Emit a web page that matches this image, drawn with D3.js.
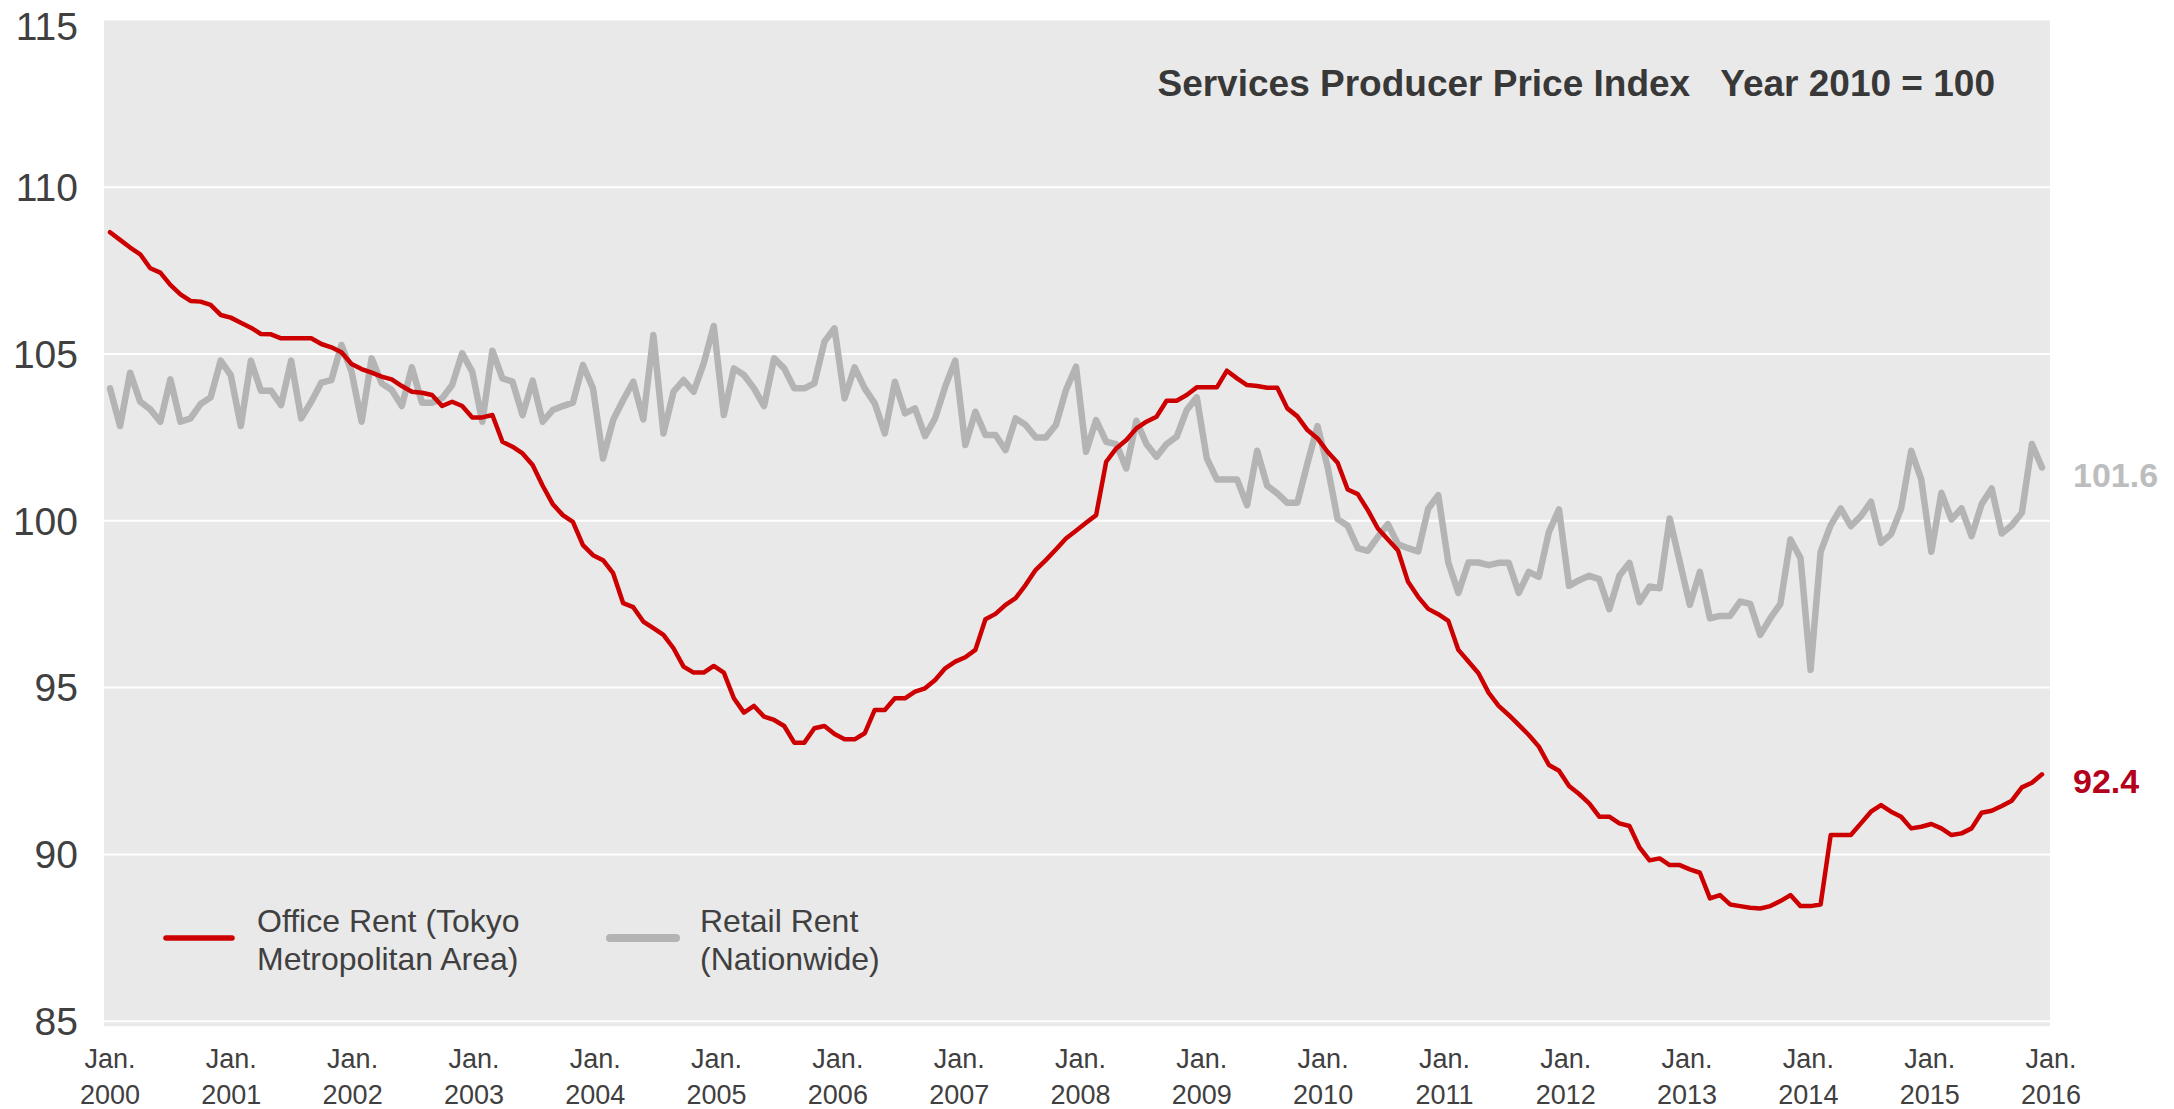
<!DOCTYPE html>
<html>
<head>
<meta charset="utf-8">
<script src="https://cdn.jsdelivr.net/npm/d3@7"></script>
<style>
  body { margin: 0; background: #ffffff; }
  svg text { font-family: "Liberation Sans", Arial, Helvetica, sans-serif; }
</style>
</head>
<body>
<svg id="chart" width="2174" height="1109"></svg>
<script>
// Services Producer Price Index (Year 2010 = 100), monthly, Jan. 2000 – Jan. 2016
const officeRent = [
  108.65,108.42,108.19,107.99,107.57,107.44,107.07,106.79,106.59,106.57,106.47,106.17,
  106.09,105.94,105.79,105.60,105.59,105.47,105.47,105.47,105.47,105.30,105.20,105.05,
  104.70,104.55,104.44,104.32,104.24,104.04,103.87,103.84,103.77,103.44,103.57,103.44,
  103.10,103.10,103.17,102.37,102.22,102.02,101.67,101.05,100.50,100.17,99.97,99.27,
  98.97,98.82,98.43,97.53,97.41,96.98,96.78,96.58,96.18,95.63,95.45,95.45,
  95.65,95.45,94.68,94.25,94.45,94.13,94.03,93.85,93.35,93.35,93.78,93.85,
  93.61,93.45,93.45,93.63,94.33,94.33,94.68,94.68,94.88,94.98,95.23,95.58,
  95.78,95.91,96.13,97.05,97.21,97.48,97.68,98.08,98.53,98.82,99.14,99.47,
  99.70,99.94,100.17,101.77,102.17,102.42,102.77,102.97,103.12,103.60,103.60,103.77,
  104.00,104.00,104.00,104.50,104.27,104.07,104.04,103.99,103.99,103.37,103.13,102.72,
  102.47,102.07,101.74,100.94,100.80,100.32,99.77,99.44,99.11,98.17,97.72,97.36,
  97.20,97.00,96.13,95.78,95.43,94.85,94.45,94.18,93.88,93.58,93.23,92.68,
  92.51,92.05,91.81,91.53,91.13,91.13,90.93,90.85,90.21,89.82,89.88,89.68,
  89.68,89.55,89.45,88.68,88.78,88.50,88.45,88.40,88.38,88.45,88.60,88.78,
  88.45,88.45,88.50,90.58,90.58,90.58,90.93,91.28,91.48,91.28,91.13,90.78,
  90.83,90.91,90.78,90.58,90.63,90.78,91.25,91.31,91.45,91.61,92.01,92.15,
  92.40
];
const retailRent = [
  103.97,102.84,104.44,103.57,103.34,102.97,104.24,102.97,103.07,103.50,103.70,104.80,
  104.37,102.84,104.80,103.90,103.90,103.47,104.80,103.07,103.57,104.14,104.22,105.27,
  104.47,102.97,104.87,104.12,103.92,103.44,104.60,103.54,103.54,103.67,104.07,105.02,
  104.47,102.97,105.10,104.27,104.17,103.17,104.20,102.97,103.32,103.44,103.54,104.67,
  103.97,101.87,103.02,103.62,104.17,103.04,105.57,102.62,103.87,104.22,103.87,104.72,
  105.84,103.17,104.57,104.37,103.97,103.44,104.87,104.57,103.97,103.97,104.12,105.37,
  105.77,103.67,104.60,103.97,103.52,102.62,104.17,103.22,103.37,102.54,103.07,104.02,
  104.80,102.27,103.27,102.57,102.57,102.12,103.07,102.87,102.50,102.50,102.87,103.92,
  104.62,102.07,103.02,102.37,102.30,101.57,103.00,102.30,101.92,102.30,102.52,103.32,
  103.70,101.87,101.24,101.24,101.24,100.47,102.10,101.05,100.82,100.54,100.54,101.72,
  102.84,101.62,100.05,99.85,99.18,99.10,99.52,99.90,99.30,99.18,99.08,100.36,
  100.77,98.75,97.84,98.75,98.75,98.67,98.74,98.74,97.84,98.47,98.32,99.67,
  100.34,98.05,98.22,98.35,98.25,97.35,98.35,98.74,97.56,98.03,97.98,100.07,
  98.77,97.48,98.47,97.08,97.15,97.15,97.58,97.51,96.58,97.08,97.51,99.44,
  98.88,95.53,99.07,99.87,100.37,99.84,100.14,100.57,99.34,99.60,100.37,102.10,
  101.24,99.07,100.84,100.04,100.37,99.54,100.50,100.97,99.62,99.87,100.24,102.30,
  101.60
];
const yearLabels = ["2000","2001","2002","2003","2004","2005","2006","2007","2008",
                    "2009","2010","2011","2012","2013","2014","2015","2016"];
const monthLabel = "Jan.";
const yTicks = [85, 90, 95, 100, 105, 110, 115];
const officeName = ["Office Rent (Tokyo", "Metropolitan Area)"];
const retailName = ["Retail Rent", "(Nationwide)"];
const chartTitle = "Services Producer Price Index   Year 2010 = 100";

const RED = "#cc0000", GREY = "#b4b4b4", PANEL = "#e9e9e9", INK = "#404040";

const svg = d3.select("#chart");

const x = d3.scaleLinear().domain([0, officeRent.length - 1]).range([110, 2042]);
const y = d3.scaleLinear().domain([85, 115]).range([1021.2, 20.4]);
const xYear = d3.scalePoint().domain(yearLabels).range([110, 2051]);

// plot panel
svg.append("rect")
  .attr("x", 104).attr("y", y(115))
  .attr("width", 2050 - 104).attr("height", y(85) - y(115) + 5)
  .attr("fill", PANEL);

// horizontal gridlines
svg.append("g").selectAll("line")
  .data(yTicks.filter(d => d < 115))
  .join("line")
  .attr("x1", 104).attr("x2", 2050)
  .attr("y1", d => y(d)).attr("y2", d => y(d))
  .attr("stroke", "#ffffff").attr("stroke-width", 2);

// value axis labels (the top one is nudged down so it stays inside the page)
const yAxis = svg.append("g")
  .attr("transform", "translate(78,0)")
  .call(d3.axisLeft(y).tickValues(yTicks).tickSize(0).tickPadding(0));
yAxis.select(".domain").remove();
yAxis.selectAll("text")
  .attr("font-size", 39).attr("fill", INK)
  .attr("dy", d => d === 115 ? "0.5em" : "0.34em")
  .style("font-family", "'Liberation Sans', Arial, sans-serif");

// time axis labels
const xl = svg.append("g").selectAll("text")
  .data(yearLabels)
  .join("text")
  .attr("text-anchor", "middle")
  .attr("font-size", 27)
  .attr("fill", INK);
xl.append("tspan").attr("x", d => xYear(d)).attr("y", 1068).text(monthLabel);
xl.append("tspan").attr("x", d => xYear(d)).attr("y", 1104).text(d => d);

// series lines
const line = d3.line()
  .x((d, i) => x(i))
  .y(d => y(d));

svg.append("path")
  .datum(retailRent)
  .attr("d", line)
  .attr("fill", "none")
  .attr("stroke", GREY).attr("stroke-width", 6.5)
  .attr("stroke-linejoin", "round").attr("stroke-linecap", "round");

svg.append("path")
  .datum(officeRent)
  .attr("d", line)
  .attr("fill", "none")
  .attr("stroke", RED).attr("stroke-width", 4.5)
  .attr("stroke-linejoin", "round").attr("stroke-linecap", "round");

// end-of-series value labels
const lastIdx = officeRent.length - 1;
svg.append("text")
  .attr("x", 2073).attr("y", y(retailRent[lastIdx]) + 20)
  .attr("font-size", 34).attr("font-weight", "bold").attr("fill", "#bdbdbd")
  .text(retailRent[lastIdx].toFixed(1));
svg.append("text")
  .attr("x", 2073).attr("y", y(officeRent[lastIdx]) + 19)
  .attr("font-size", 34).attr("font-weight", "bold").attr("fill", "#b3001b")
  .text(officeRent[lastIdx].toFixed(1));

// title
svg.append("text")
  .attr("x", 1995).attr("y", 96)
  .attr("text-anchor", "end")
  .attr("font-size", 37).attr("font-weight", "bold").attr("fill", "#383838")
  .style("white-space", "pre")
  .text(chartTitle);

// legend
const legendItems = [
  { name: officeName, color: RED, width: 5.5, x0: 166, x1: 232, tx: 257 },
  { name: retailName, color: GREY, width: 8, x0: 610, x1: 676, tx: 700 }
];
const lg = svg.append("g").selectAll("g").data(legendItems).join("g");
lg.append("line")
  .attr("x1", d => d.x0).attr("x2", d => d.x1)
  .attr("y1", 938).attr("y2", 938)
  .attr("stroke", d => d.color).attr("stroke-width", d => d.width)
  .attr("stroke-linecap", "round");
const lt = lg.append("text").attr("font-size", 32).attr("fill", INK);
lt.append("tspan").attr("x", d => d.tx).attr("y", 932).text(d => d.name[0]);
lt.append("tspan").attr("x", d => d.tx).attr("y", 970).text(d => d.name[1]);
</script>
</body>
</html>
